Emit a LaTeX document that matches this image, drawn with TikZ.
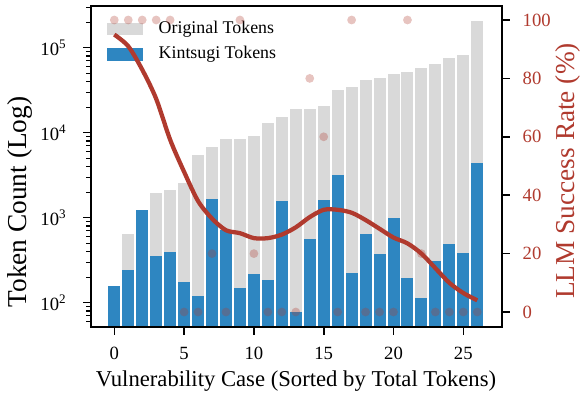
\documentclass[tikz,border=0pt]{standalone}
\usepackage{fontspec}
\setmainfont{Liberation Serif}
\definecolor{origgray}{RGB}{217,217,217}
\definecolor{kinblue}{RGB}{46,134,193}
\definecolor{ratered}{RGB}{176,58,46}

\begin{document}
\begin{tikzpicture}[x=0.75pt, y=0.75pt,
  every node/.style={font=\fontsize{14}{16}\selectfont},
  origbar/.style={fill=origgray},
  kinbar/.style={fill=kinblue},
  rateline/.style={ratered, line width=3.2pt, line join=round},
  ratedot/.style={fill=ratered, fill opacity=0.3},
  spine/.style={line width=1.5pt},
  majortick/.style={line width=1.2pt},
  minortick/.style={line width=0.9pt},
  axlabel/.style={font=\fontsize{17}{20}\selectfont},
  sidelabel/.style={font=\fontsize{20.5}{24}\selectfont, rotate=90},
  legtext/.style={font=\fontsize{13.4}{16}\selectfont, anchor=west}]
\useasboundingbox (0,0) rectangle (581,396);

% token counts (in thousands) on the log axis, one unit per decade
\begin{scope}[shift={(114.3,93.3)}, x=10.47pt, y=63.75pt]
  \foreach \k/\orig/\kin in {0/0.157/0.157, 1/0.643/0.243, 2/1.233/1.233,
      3/1.95/0.354, 4/2.11/0.395, 5/2.56/0.175, 6/5.46/0.120, 7/6.79/1.66,
      8/8.44/0.717, 9/8.44/0.149, 10/9.14/0.218, 11/13.0/0.185, 12/15.3/1.57,
      13/19.0/0.078, 14/19.0/0.561, 15/20.6/1.616, 16/31.8/3.18, 17/34.5/0.224,
      18/41.7/0.643, 19/44.0/0.374, 20/49.1/0.991, 21/51.8/0.195, 22/57.7/0.114,
      23/64.3/0.310, 24/75.6/0.491, 25/82.0/0.385, 26/206/4.40} {
    \fill[origbar] (\k-0.43,-0.286) rectangle (\k+0.43,{log10(\orig)+1});
    \fill[kinbar] (\k-0.43,-0.286) rectangle (\k+0.43,{log10(\kin)+1});
  }
\end{scope}

% legend
\fill[origgray] (107.3,360.7) rectangle (143.3,373.3);
\node[legtext] (legorig) at (154,367) {Original Tokens};
\fill[kinblue] (107.3,335) rectangle (143.3,348);
\node[legtext] (legkin) at (154,342) {Kintsugi Tokens};

% success rate: smoothed curve and raw points
\begin{scope}[shift={(114.3,84)}, x=10.47pt, y=2.19pt]
  \draw[rateline] plot[smooth, tension=0.5] coordinates {(0,95) (1,91) (2,83)
      (3,73) (4,59) (5,48) (6,38) (7,32) (8,28) (9,27) (10,25.3) (11,25.3)
      (12,26.5) (13,29) (14,32.5) (15,35) (16,35) (17,34) (18,31.5) (19,28.5)
      (20,25.5) (21,23.5) (22,20) (23,15) (24,10) (25,6.5) (26,4)};
  \foreach \k/\r in {0/100, 1/100, 2/100, 3/100, 4/100, 5/0, 6/0, 7/20, 8/0,
      9/100, 10/20, 11/0, 12/0, 13/0, 14/80, 15/60, 16/0, 17/100, 18/0, 19/0,
      20/0, 21/100, 22/20, 23/0, 24/0, 25/0, 26/0}
    \fill[ratedot] (\k,\r) circle[radius=3.3pt];
\end{scope}

% axes frame and ticks
\draw[spine] (90.5,69) rectangle (502,390);
\foreach \e [count=\i from 0] in {2,3,4,5} {
  \draw[majortick] (90.5,{93.3+85*\i}) -- ++(-8,0);
  \node[anchor=east] (ytick\e) at (71,{93.3+85*\i}) {10\textsuperscript{\e}};
}
\foreach \d in {1,...,5}
  \foreach \m in {2,...,9} {
    \pgfmathsetmacro\yy{93.3+85*(\d-2+log10(\m))}
    \ifdim\yy pt>69pt \ifdim\yy pt<390pt
      \draw[minortick] (90.5,\yy) -- ++(-5,0);
    \fi\fi
  }
\foreach \t in {0,5,...,25} {
  \draw[majortick] ({114.3+13.96*\t},69) -- ++(0,-8);
  \node (xtick\t) at ({114.3+13.96*\t},43) {\t};
}
\foreach \r in {0,20,...,100} {
  \draw[majortick] (502,{84+2.92*\r}) -- ++(8,0);
  \node[anchor=west, text=ratered] (rtick\r) at (518,{84+2.92*\r}) {\r};
}

\node[sidelabel] (ylab) at (20,194) {Token Count (Log)};
\node[sidelabel, text=ratered] (rlab) at (568,225) {LLM Success Rate (\%)};
\node[axlabel] (xlab) at (296,15) {Vulnerability Case (Sorted by Total Tokens)};
\end{tikzpicture}
\end{document}
